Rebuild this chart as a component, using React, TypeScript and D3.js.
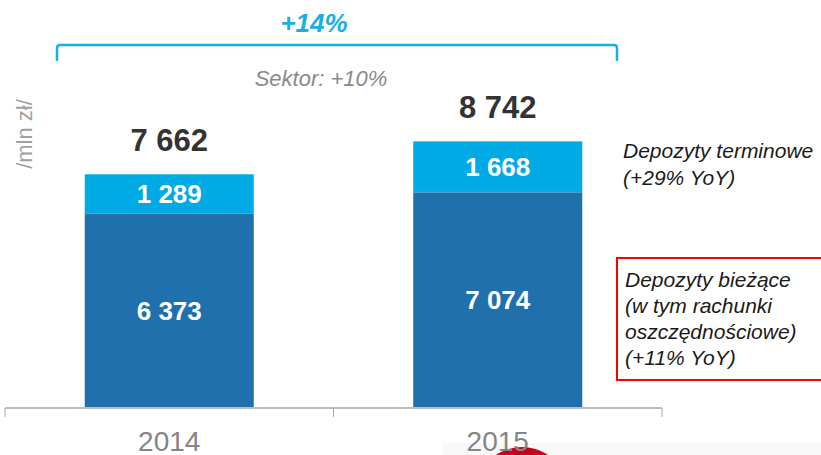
import React from "react";
import * as d3 from "d3";

const years = ["2014", "2015"];
const biezace = [6373, 7074];
const terminowe = [1289, 1668];
const totals = [7662, 8742];
const fmt = (v: number) => d3.format(",")(v).replace(/,/g, " ");

const W = 821;
const H = 455;

export default function App() {
  const x = d3.scaleBand<string>().domain(years).range([5, 662]).paddingInner(0.4855).paddingOuter(0.24275);
  const y = d3.scaleLinear().domain([0, 10000]).range([408, 103]);

  const stackData = years.map((yr, i) => ({ year: yr, biezace: biezace[i], terminowe: terminowe[i] }));
  const series = d3.stack<any>().keys(["biezace", "terminowe"])(stackData);
  const colors: Record<string, string> = { biezace: "#1F70AD", terminowe: "#00AAE4" };

  const font = "'Liberation Sans', Arial, sans-serif";
  const bw = x.bandwidth();
  const axisY = y(0);

  return (
    <svg width={W} height={H} style={{ position: "absolute", left: 0, top: 0, background: "#fff" }} fontFamily={font}>
      {/* bottom decorative panel */}
      <rect x={443} y={443} width={W - 443} height={H - 443} fill="#f8f8f8" />
      <circle cx={522} cy={493} r={46} fill="#C8001E" />

      {/* bars */}
      {series.map((s) => (
        <g key={s.key}>
          {s.map((d, i) => (
            <g key={i}>
              <rect x={x(years[i])!} y={y(d[1])} width={bw} height={y(d[0]) - y(d[1])} fill={colors[s.key]} />
              <text
                x={x(years[i])! + bw / 2}
                y={(y(d[0]) + y(d[1])) / 2}
                dy="0.36em"
                textAnchor="middle"
                fill="#fff"
                fontWeight="bold"
                fontSize={26}
              >
                {fmt(d[1] - d[0])}
              </text>
            </g>
          ))}
        </g>
      ))}
      {years.map((yr, i) => (
        <line key={yr} x1={x(yr)!} x2={x(yr)! + bw} y1={y(biezace[i])} y2={y(biezace[i])} stroke="#5a9fd0" strokeWidth={1} />
      ))}

      {/* totals */}
      {years.map((yr, i) => (
        <text key={yr} x={x(yr)! + bw / 2} y={y(totals[i]) - 23} textAnchor="middle" fill="#333" fontWeight="bold" fontSize={31}>
          {fmt(totals[i])}
        </text>
      ))}

      {/* axis */}
      <line x1={5} x2={662} y1={axisY} y2={axisY} stroke="#bdbdbd" strokeWidth={2} />
      {[5, (5 + 662) / 2, 662].map((tx, i) => (
        <line key={i} x1={tx} x2={tx} y1={axisY} y2={axisY + 9} stroke="#a8a8a8" strokeWidth={1} />
      ))}
      {years.map((yr) => (
        <text key={yr} x={x(yr)! + bw / 2} y={451} textAnchor="middle" fill="#858585" fontSize={28}>
          {yr}
        </text>
      ))}

      {/* bracket */}
      <path d="M57,61 V48 Q57,45 60,45 H614 Q617,45 617,48 V61" fill="none" stroke="#1AAEE6" strokeWidth={2.5} />
      <text x={314} y={32} textAnchor="middle" fill="#1AAEE6" fontWeight="bold" fontStyle="italic" fontSize={26}>
        +14%
      </text>
      <text x={321} y={86} textAnchor="middle" fill="#8a8a8a" fontStyle="italic" fontSize={22}>
        Sektor: +10%
      </text>

      {/* unit */}
      <text transform="translate(32,134) rotate(-90)" textAnchor="middle" fill="#a0a0a0" fontSize={22}>
        /mln zł/
      </text>

      {/* legend texts */}
      <g fill="#1a1a1a" fontStyle="italic" fontSize={21}>
        <text x={623} y={158}>Depozyty terminowe</text>
        <text x={623} y={185}>(+29% YoY)</text>
        <rect x={617} y={258} width={230} height={122} fill="none" stroke="#FF0000" strokeWidth={2} />
        <text x={625} y={287}>Depozyty bieżące</text>
        <text x={625} y={313}>(w tym rachunki</text>
        <text x={625} y={339}>oszczędnościowe)</text>
        <text x={625} y={365}>(+11% YoY)</text>
      </g>
    </svg>
  );
}
